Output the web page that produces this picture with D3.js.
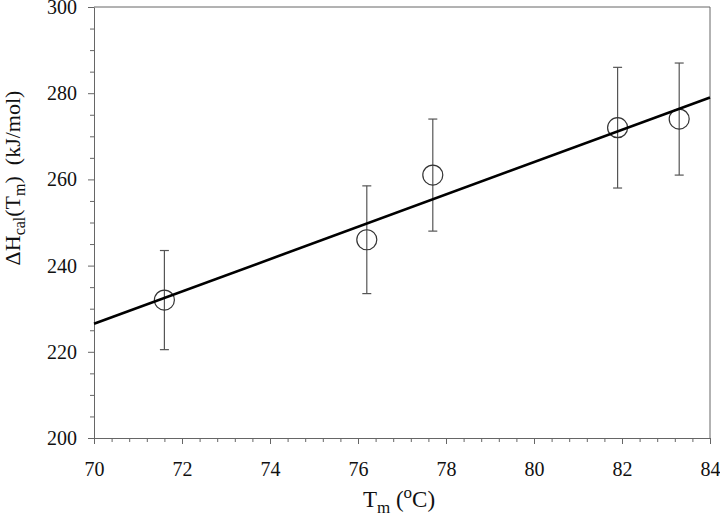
<!DOCTYPE html>
<html>
<head>
<meta charset="utf-8">
<script src="https://cdn.jsdelivr.net/npm/d3@7"></script>
<style>
  body { margin: 0; background: #fff; }
  svg { display: block; }
  svg text { font-family: "Liberation Serif", "Times New Roman", serif; }
</style>
</head>
<body>
<div id="chart"></div>
<script>
// data
const tempMelt = [71.6, 76.2, 77.7, 81.9, 83.3];
const enthalpy = [232, 246, 261, 272, 274];
const errUp = [11.5, 12.5, 13, 14, 13];
const errDown = [11.5, 12.5, 13, 14, 13];
const fitX = [70, 84];
const fitY = [226.5, 279];
const xTicks = [70, 72, 74, 76, 78, 80, 82, 84];
const yTicks = [200, 220, 240, 260, 280, 300];

const width = 720, height = 528;
const margin = { top: 7, right: 10, bottom: 90, left: 94 };
const plotW = width - margin.left - margin.right;
const plotH = height - margin.top - margin.bottom;
const serif = '"Liberation Serif", "Times New Roman", serif';

const svg = d3.select('#chart').append('svg')
    .attr('width', width)
    .attr('height', height);

const g = svg.append('g')
    .attr('transform', `translate(${margin.left},${margin.top})`);

const x = d3.scaleLinear().domain([70, 84]).range([0, plotW]);
const y = d3.scaleLinear().domain([200, 300]).range([plotH, 0]);

const axisColor = '#666';

// minor ticks
const xMinor = d3.range(70, 84.001, 0.4).filter(v => !xTicks.some(t => Math.abs(t - v) < 1e-6));
const yMinor = d3.range(200, 300.001, 5).filter(v => v % 20 !== 0);

g.append('g')
    .attr('transform', `translate(0,${plotH})`)
    .call(d3.axisBottom(x).tickValues(xMinor).tickSize(4).tickFormat(''))
    .call(a => a.select('.domain').remove())
    .selectAll('line').attr('stroke', axisColor);

g.append('g')
    .call(d3.axisLeft(y).tickValues(yMinor).tickSize(4).tickFormat(''))
    .call(a => a.select('.domain').remove())
    .selectAll('line').attr('stroke', axisColor);

// major axes
const xAxis = g.append('g')
    .attr('transform', `translate(0,${plotH})`)
    .call(d3.axisBottom(x).tickValues(xTicks).tickSize(6).tickSizeOuter(0).tickPadding(18).tickFormat(d3.format('d')))
    .attr('font-family', serif)
    .attr('font-size', 20);
xAxis.select('.domain').attr('stroke', axisColor);
xAxis.selectAll('line').attr('stroke', axisColor);
xAxis.selectAll('text').attr('fill', '#111');

const yAxis = g.append('g')
    .call(d3.axisLeft(y).tickValues(yTicks).tickSize(6).tickSizeOuter(0).tickPadding(11).tickFormat(d3.format('d')))
    .attr('font-family', serif)
    .attr('font-size', 20);
yAxis.select('.domain').attr('stroke', axisColor);
yAxis.selectAll('line').attr('stroke', axisColor);
yAxis.selectAll('text').attr('fill', '#111');

// frame top and right
g.append('line')
    .attr('x1', 0).attr('x2', plotW).attr('y1', 0).attr('y2', 0)
    .attr('stroke', axisColor);
g.append('line')
    .attr('x1', plotW).attr('x2', plotW).attr('y1', 0).attr('y2', plotH)
    .attr('stroke', axisColor);

const points = tempMelt.map((t, i) => ({ t, h: enthalpy[i], up: errUp[i], down: errDown[i] }));

// error bars
const bars = g.selectAll('.errbar')
    .data(points)
    .enter().append('g')
    .attr('class', 'errbar')
    .attr('stroke', '#555')
    .attr('stroke-width', 1.2);

bars.append('line')
    .attr('x1', d => x(d.t)).attr('x2', d => x(d.t))
    .attr('y1', d => y(d.h + d.up)).attr('y2', d => y(d.h - d.down));
bars.append('line')
    .attr('x1', d => x(d.t) - 4.5).attr('x2', d => x(d.t) + 4.5)
    .attr('y1', d => y(d.h + d.up)).attr('y2', d => y(d.h + d.up));
bars.append('line')
    .attr('x1', d => x(d.t) - 4.5).attr('x2', d => x(d.t) + 4.5)
    .attr('y1', d => y(d.h - d.down)).attr('y2', d => y(d.h - d.down));

// circles
g.selectAll('.pt')
    .data(points)
    .enter().append('circle')
    .attr('class', 'pt')
    .attr('cx', d => x(d.t))
    .attr('cy', d => y(d.h))
    .attr('r', 10)
    .attr('fill', 'none')
    .attr('stroke', '#333')
    .attr('stroke-width', 1.2);

// regression line
g.append('path')
    .datum(fitX.map((v, i) => [v, fitY[i]]))
    .attr('d', d3.line().x(d => x(d[0])).y(d => y(d[1])))
    .attr('fill', 'none')
    .attr('stroke', '#000')
    .attr('stroke-width', 2.6);

// axis titles
const xt = svg.append('text')
    .attr('x', 399)
    .attr('y', 507)
    .attr('text-anchor', 'middle')
    .style('font-size', '23px')
    .attr('fill', '#111');
xt.append('tspan').text('T');
xt.append('tspan').attr('dy', 6).style('font-size', '17px').text('m');
xt.append('tspan').attr('dy', -6).text(' (');
xt.append('tspan').attr('dy', -9).style('font-size', '17px').text('o');
xt.append('tspan').attr('dy', 9).text('C)');

const yt = svg.append('text')
    .attr('transform', 'translate(20,178) rotate(-90)')
    .attr('text-anchor', 'middle')
    .style('font-size', '22px')
    .attr('fill', '#111');
yt.append('tspan').text('ΔH');
yt.append('tspan').attr('dy', 5).style('font-size', '16px').text('cal');
yt.append('tspan').attr('dy', -5).text('(T');
yt.append('tspan').attr('dy', 5).style('font-size', '16px').text('m');
yt.append('tspan').attr('dy', -5).text(')\u00a0\u00a0(kJ/mol)');
</script>
</body>
</html>
